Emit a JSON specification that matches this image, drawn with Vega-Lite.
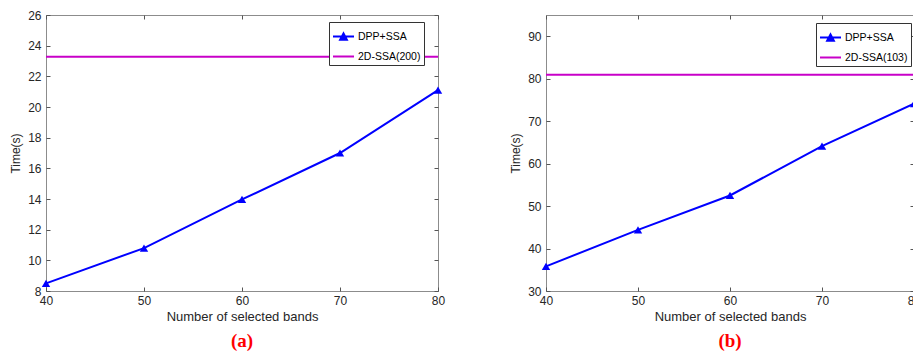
{
  "$schema": "https://vega.github.io/schema/vega-lite/v6.json",
  "padding": {"left": 9, "top": 8, "right": 0, "bottom": 0},
  "background": "white",
  "datasets": {
    "a_dpp": [
      {"bands": 40, "time": 8.5, "method": "DPP+SSA"},
      {"bands": 50, "time": 10.8, "method": "DPP+SSA"},
      {"bands": 60, "time": 13.97, "method": "DPP+SSA"},
      {"bands": 70, "time": 17.0, "method": "DPP+SSA"},
      {"bands": 80, "time": 21.1, "method": "DPP+SSA"}
    ],
    "a_ssa": [
      {"time": 23.27, "method": "2D-SSA(200)"}
    ],
    "b_dpp": [
      {"bands": 40, "time": 35.8, "method": "DPP+SSA"},
      {"bands": 50, "time": 44.4, "method": "DPP+SSA"},
      {"bands": 60, "time": 52.5, "method": "DPP+SSA"},
      {"bands": 70, "time": 64.1, "method": "DPP+SSA"},
      {"bands": 80, "time": 74.1, "method": "DPP+SSA"}
    ],
    "b_ssa": [
      {"time": 80.9, "method": "2D-SSA(103)"}
    ]
  },
  "hconcat": [
    {
      "width": 392,
      "height": 276,
      "title": {"text": "(a)"},
      "layer": [
        {
          "data": {"name": "a_ssa"},
          "mark": {"type": "rule", "strokeWidth": 2},
          "encoding": {
            "y": {"field": "time", "type": "quantitative", "scale": {"domain": [8, 26]}, "axis": null},
            "color": {
              "field": "method", "type": "nominal",
              "scale": {"domain": ["DPP+SSA", "2D-SSA(200)"], "range": ["#0000ff", "#c800c8"]},
              "legend": {
                "orient": "none", "legendX": 283, "legendY": 7,
                "encode": {"symbols": {"update": {
                  "shape": {"signal": "datum.value === 'DPP+SSA' ? 'M-1,0L1,0M-0.32,0.3L0,-0.3L0.32,0.3Z' : 'M-1,0L1,0'"},
                  "fill": {"signal": "datum.value === 'DPP+SSA' ? '#0000ff' : 'transparent'"}
                }}}
              }
            }
          }
        },
        {
          "data": {"name": "a_dpp"},
          "mark": {"type": "line", "strokeWidth": 2, "point": {"shape": "triangle-up", "filled": true, "size": 70}},
          "encoding": {
            "x": {"field": "bands", "type": "quantitative", "scale": {"domain": [40, 80]},
                  "axis": {"orient": "bottom", "values": [40, 50, 60, 70, 80], "title": "Number of selected bands"}},
            "y": {"field": "time", "type": "quantitative", "scale": {"domain": [8, 26]},
                  "axis": {"orient": "left", "values": [8, 10, 12, 14, 16, 18, 20, 22, 24, 26], "title": "Time(s)"}},
            "color": {"field": "method", "type": "nominal"}
          }
        },
        {
          "data": {"name": "a_dpp"},
          "mark": {"type": "point", "opacity": 0},
          "encoding": {
            "x": {"field": "bands", "type": "quantitative",
                  "axis": {"orient": "top", "values": [40, 50, 60, 70, 80], "labels": false, "title": null}},
            "y": {"field": "time", "type": "quantitative",
                  "axis": {"orient": "right", "values": [8, 10, 12, 14, 16, 18, 20, 22, 24, 26], "labels": false, "title": null}}
          }
        }
      ]
    },
    {
      "width": 368,
      "height": 276,
      "title": {"text": "(b)"},
      "layer": [
        {
          "data": {"name": "b_ssa"},
          "mark": {"type": "rule", "strokeWidth": 2},
          "encoding": {
            "y": {"field": "time", "type": "quantitative", "scale": {"domain": [30, 95]}, "axis": null},
            "color": {
              "field": "method", "type": "nominal",
              "scale": {"domain": ["DPP+SSA", "2D-SSA(103)"], "range": ["#0000ff", "#c800c8"]},
              "legend": {
                "orient": "none", "legendX": 270, "legendY": 8,
                "encode": {"symbols": {"update": {
                  "shape": {"signal": "datum.value === 'DPP+SSA' ? 'M-1,0L1,0M-0.32,0.3L0,-0.3L0.32,0.3Z' : 'M-1,0L1,0'"},
                  "fill": {"signal": "datum.value === 'DPP+SSA' ? '#0000ff' : 'transparent'"}
                }}}
              }
            }
          }
        },
        {
          "data": {"name": "b_dpp"},
          "mark": {"type": "line", "strokeWidth": 2, "point": {"shape": "triangle-up", "filled": true, "size": 70}},
          "encoding": {
            "x": {"field": "bands", "type": "quantitative", "scale": {"domain": [40, 80]},
                  "axis": {"orient": "bottom", "values": [40, 50, 60, 70, 80], "title": "Number of selected bands"}},
            "y": {"field": "time", "type": "quantitative", "scale": {"domain": [30, 95]},
                  "axis": {"orient": "left", "values": [30, 40, 50, 60, 70, 80, 90], "title": "Time(s)"}},
            "color": {"field": "method", "type": "nominal"}
          }
        },
        {
          "data": {"name": "b_dpp"},
          "mark": {"type": "point", "opacity": 0},
          "encoding": {
            "x": {"field": "bands", "type": "quantitative",
                  "axis": {"orient": "top", "values": [40, 50, 60, 70, 80], "labels": false, "title": null}},
            "y": {"field": "time", "type": "quantitative",
                  "axis": {"orient": "right", "values": [30, 40, 50, 60, 70, 80, 90], "labels": false, "title": null}}
          }
        }
      ]
    }
  ],
  "spacing": 63,
  "resolve": {"scale": {"color": "independent"}},
  "config": {
    "view": {"stroke": "#8c8c8c", "strokeWidth": 1},
    "axis": {
      "domain": false, "grid": false, "labelFlush": false, "labelOverlap": false,
      "tickColor": "#555", "tickSize": -4, "tickWidth": 1,
      "labelPadding": 9, "labelFont": "Liberation Sans", "labelFontSize": 12, "labelColor": "#262626",
      "titleFont": "Liberation Sans", "titleFontWeight": "normal", "titleColor": "#262626"
    },
    "axisX": {"titleFontSize": 13, "titlePadding": 4, "labelPadding": 8},
    "axisY": {"titleFontSize": 12, "titlePadding": 5},
    "legend": {
      "title": null, "padding": 3, "strokeColor": "#333", "fillColor": "white",
      "labelFont": "Liberation Sans", "labelFontSize": 10.5, "labelColor": "#000",
      "symbolSize": 441, "symbolStrokeWidth": 2, "rowPadding": 1, "labelOffset": 3
    },
    "title": {
      "orient": "bottom", "anchor": "middle", "font": "Liberation Serif", "fontSize": 19,
      "fontWeight": "bold", "color": "#ff0000", "offset": 9
    }
  }
}
